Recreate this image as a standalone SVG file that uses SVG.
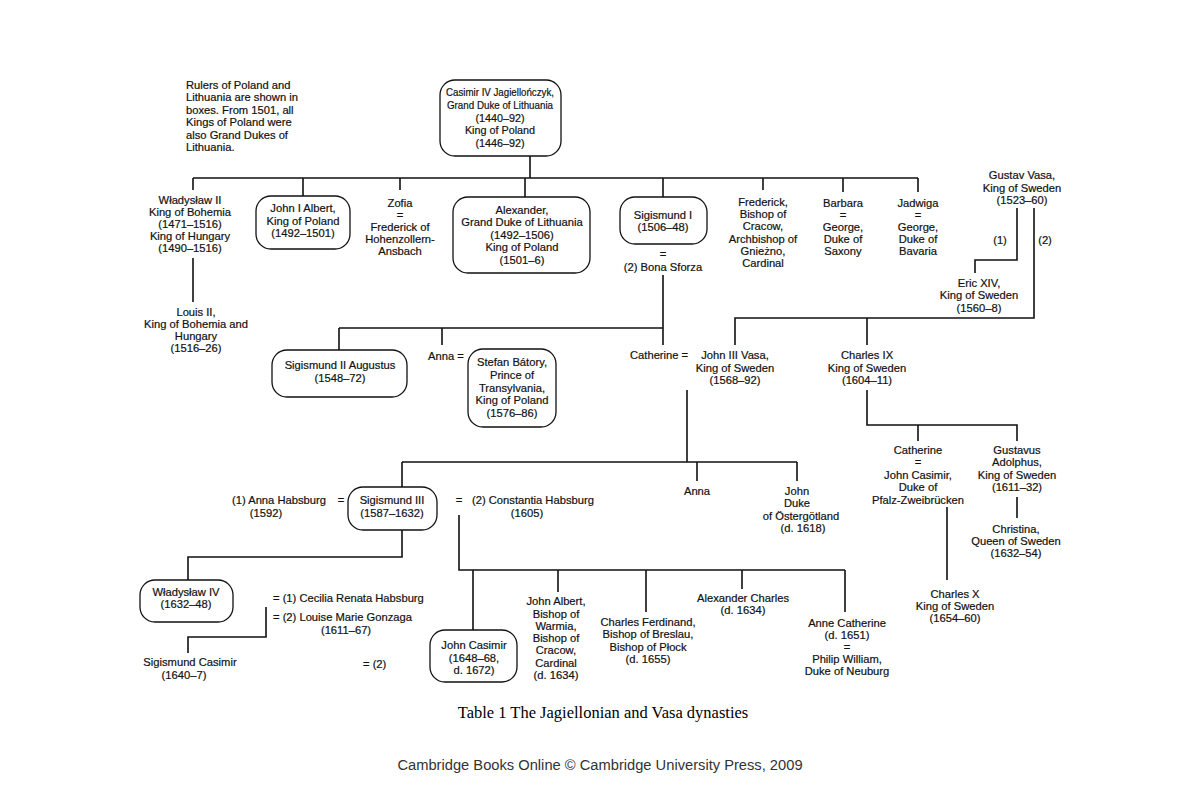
<svg xmlns="http://www.w3.org/2000/svg" width="1201" height="801" viewBox="0 0 1201 801">
<style>
text{font-family:"Liberation Sans",Arial,sans-serif;font-size:11.2px;fill:#111;stroke:#111;stroke-width:0.2;}
.c{text-anchor:middle;}
.s{font-size:10.8px;}
.box{fill:none;stroke:#111;stroke-width:1.3;}
.ln{fill:none;stroke:#111;stroke-width:1.6;}
.cap{font-family:"Liberation Serif","Times New Roman",serif;font-size:16.5px;fill:#000;stroke:none;}
.foot{font-size:14.7px;fill:#333;stroke:none;}
</style>
<rect width="1201" height="801" fill="#fff"/>
<g id="connectors">
<path class="ln" d="M530 156V178M193 178H918M193 178V190M303 178V196M400 178V190M525 178V197M663 178V197M763 178V190M843 178V192M918 178V192"/>
<path class="ln" d="M193 258V302"/>
<path class="ln" d="M663 275V345M339 328H663M339 328V350M442 328V345"/>
<path class="ln" d="M1017 208V260H975V273M1034 208V318H735V345M867 318V345"/>
<path class="ln" d="M867 390V425H1017V441M918 425V441M1017 497V518M947 507V580"/>
<path class="ln" d="M687 390V462M402 462H797M402 462V487M697 462V481M797 462V481"/>
<path class="ln" d="M402 530V557H188V580M459 515V570H845M473 570V630M558 570V592M646 570V612M742 570V589M845 570V612"/>
<path class="ln" d="M266 607V637H188V653"/>
</g>
<g id="note">
<text x="186" y="89">Rulers of Poland and</text>
<text x="186" y="101">Lithuania are shown in</text>
<text x="186" y="114">boxes.  From 1501, all</text>
<text x="186" y="126">Kings of Poland were</text>
<text x="186" y="139">also Grand Dukes of</text>
<text x="186" y="151">Lithuania.</text>
</g>
<g id="casimir4">
<rect class="box" x="440" y="80" width="121" height="76" rx="15"/>
<text class="c s" x="500" y="96" textLength="108" lengthAdjust="spacingAndGlyphs">Casimir IV Jagiellończyk,</text>
<text class="c s" x="500" y="109" textLength="106" lengthAdjust="spacingAndGlyphs">Grand Duke of Lithuania</text>
<text class="c s" x="500" y="122">(1440–92)</text>
<text class="c s" x="500" y="134">King of Poland</text>
<text class="c s" x="500" y="147">(1446–92)</text>
</g>
<g id="wladyslaw2">
<text class="c" x="190" y="204">Władysław II</text>
<text class="c" x="190" y="216">King of Bohemia</text>
<text class="c" x="190" y="228">(1471–1516)</text>
<text class="c" x="190" y="240">King of Hungary</text>
<text class="c" x="190" y="252">(1490–1516)</text>
</g>
<g id="louis2">
<text class="c" x="196" y="316">Louis II,</text>
<text class="c" x="196" y="328">King of Bohemia and</text>
<text class="c" x="196" y="340">Hungary</text>
<text class="c" x="196" y="352">(1516–26)</text>
</g>
<g id="johnalbert1">
<rect class="box" x="256" y="196" width="94" height="53" rx="15"/>
<text class="c" x="303" y="212">John I Albert,</text>
<text class="c" x="303" y="225">King of Poland</text>
<text class="c" x="303" y="237">(1492–1501)</text>
</g>
<g id="zofia">
<text class="c" x="400" y="207">Zofia</text>
<text class="c" x="400" y="219">=</text>
<text class="c" x="400" y="231">Frederick of</text>
<text class="c" x="400" y="243">Hohenzollern-</text>
<text class="c" x="400" y="255">Ansbach</text>
</g>
<g id="alexander">
<rect class="box" x="453" y="197" width="137" height="76" rx="15"/>
<text class="c" x="522" y="214">Alexander,</text>
<text class="c" x="522" y="226">Grand Duke of Lithuania</text>
<text class="c" x="522" y="239">(1492–1506)</text>
<text class="c" x="522" y="251">King of Poland</text>
<text class="c" x="522" y="264">(1501–6)</text>
</g>
<g id="sigismund1">
<rect class="box" x="620" y="197" width="87" height="47" rx="15"/>
<text class="c" x="663" y="219">Sigismund I</text>
<text class="c" x="663" y="231">(1506–48)</text>
<text class="c" x="663" y="258">=</text>
<text class="c" x="663" y="271">(2) Bona Sforza</text>
</g>
<g id="frederick">
<text class="c" x="763" y="206">Frederick,</text>
<text class="c" x="763" y="218">Bishop of</text>
<text class="c" x="763" y="230">Cracow,</text>
<text class="c" x="763" y="243">Archbishop of</text>
<text class="c" x="763" y="255">Gnieżno,</text>
<text class="c" x="763" y="267">Cardinal</text>
</g>
<g id="barbara">
<text class="c" x="843" y="207">Barbara</text>
<text class="c" x="843" y="219">=</text>
<text class="c" x="843" y="231">George,</text>
<text class="c" x="843" y="243">Duke of</text>
<text class="c" x="843" y="255">Saxony</text>
</g>
<g id="jadwiga">
<text class="c" x="918" y="207">Jadwiga</text>
<text class="c" x="918" y="219">=</text>
<text class="c" x="918" y="231">George,</text>
<text class="c" x="918" y="243">Duke of</text>
<text class="c" x="918" y="255">Bavaria</text>
</g>
<g id="gustavvasa">
<text class="c" x="1022" y="179">Gustav Vasa,</text>
<text class="c" x="1022" y="192">King of Sweden</text>
<text class="c" x="1022" y="204">(1523–60)</text>
<text class="c" x="1000" y="244">(1)</text>
<text class="c" x="1045" y="244">(2)</text>
</g>
<g id="eric14">
<text class="c" x="979" y="287">Eric XIV,</text>
<text class="c" x="979" y="299">King of Sweden</text>
<text class="c" x="979" y="312">(1560–8)</text>
</g>
<g id="sigismund2">
<rect class="box" x="272" y="350" width="135" height="47" rx="15"/>
<text class="c" x="340" y="369">Sigismund II Augustus</text>
<text class="c" x="340" y="382">(1548–72)</text>
</g>
<g id="anna">
<text x="428" y="360">Anna =</text>
</g>
<g id="stefanbatory">
<rect class="box" x="468" y="349" width="88" height="78" rx="15"/>
<text class="c" x="512" y="366">Stefan Bátory,</text>
<text class="c" x="512" y="379">Prince of</text>
<text class="c" x="512" y="392">Transylvania,</text>
<text class="c" x="512" y="404">King of Poland</text>
<text class="c" x="512" y="417">(1576–86)</text>
</g>
<g id="catherine">
<text x="630" y="359">Catherine =</text>
</g>
<g id="john3vasa">
<text class="c" x="735" y="359">John III Vasa,</text>
<text class="c" x="735" y="372">King of Sweden</text>
<text class="c" x="735" y="384">(1568–92)</text>
</g>
<g id="charles9">
<text class="c" x="867" y="359">Charles IX</text>
<text class="c" x="867" y="372">King of Sweden</text>
<text class="c" x="867" y="384">(1604–11)</text>
</g>
<g id="catherine-pfalz">
<text class="c" x="918" y="454">Catherine</text>
<text class="c" x="918" y="466">=</text>
<text class="c" x="918" y="479">John Casimir,</text>
<text class="c" x="918" y="491">Duke of</text>
<text class="c" x="918" y="504">Pfalz-Zweibrücken</text>
</g>
<g id="gustavusadolphus">
<text class="c" x="1017" y="454">Gustavus</text>
<text class="c" x="1017" y="466">Adolphus,</text>
<text class="c" x="1017" y="479">King of Sweden</text>
<text class="c" x="1017" y="491">(1611–32)</text>
</g>
<g id="christina">
<text class="c" x="1016" y="533">Christina,</text>
<text class="c" x="1016" y="545">Queen of Sweden</text>
<text class="c" x="1016" y="557">(1632–54)</text>
</g>
<g id="charles10">
<text class="c" x="955" y="598">Charles X</text>
<text class="c" x="955" y="610">King of Sweden</text>
<text class="c" x="955" y="622">(1654–60)</text>
</g>
<g id="anna-vasa">
<text class="c" x="697" y="495">Anna</text>
</g>
<g id="john-ostergotland">
<text class="c" x="797" y="495">John</text>
<text class="c" x="797" y="507">Duke</text>
<text class="c" x="801" y="520">of Östergötland</text>
<text class="c" x="803" y="532">(d. 1618)</text>
</g>
<g id="sigismund3">
<rect class="box" x="348" y="487" width="89" height="43" rx="15"/>
<text class="c" x="392" y="504">Sigismund III</text>
<text class="c" x="392" y="517">(1587–1632)</text>
<text x="232" y="504">(1) Anna Habsburg</text>
<text class="c" x="341" y="504">=</text>
<text class="c" x="266" y="517">(1592)</text>
<text class="c" x="459" y="504">=</text>
<text x="472" y="504">(2) Constantia Habsburg</text>
<text class="c" x="527" y="517">(1605)</text>
</g>
<g id="wladyslaw4">
<rect class="box" x="140" y="580" width="93" height="42" rx="15"/>
<text class="c" x="186" y="596">Władysław IV</text>
<text class="c" x="186" y="608">(1632–48)</text>
<text x="273" y="602">= (1) Cecilia Renata Habsburg</text>
<text x="273" y="621">= (2) Louise Marie Gonzaga</text>
<text class="c" x="346" y="634">(1611–67)</text>
</g>
<g id="sigismundcasimir">
<text class="c" x="190" y="666">Sigismund Casimir</text>
<text class="c" x="184" y="679">(1640–7)</text>
<text x="363" y="668">= (2)</text>
</g>
<g id="johncasimir">
<rect class="box" x="430" y="630" width="87" height="52" rx="15"/>
<text class="c" x="474" y="649">John Casimir</text>
<text class="c" x="474" y="662">(1648–68,</text>
<text class="c" x="474" y="674">d. 1672)</text>
</g>
<g id="johnalbert-bishop">
<text class="c" x="556" y="605">John Albert,</text>
<text class="c" x="556" y="618">Bishop of</text>
<text class="c" x="556" y="630">Warmia,</text>
<text class="c" x="556" y="642">Bishop of</text>
<text class="c" x="556" y="654">Cracow,</text>
<text class="c" x="556" y="667">Cardinal</text>
<text class="c" x="556" y="679">(d. 1634)</text>
</g>
<g id="charlesferdinand">
<text class="c" x="648" y="626">Charles Ferdinand,</text>
<text class="c" x="648" y="638">Bishop of Breslau,</text>
<text class="c" x="648" y="651">Bishop of Płock</text>
<text class="c" x="648" y="663">(d. 1655)</text>
</g>
<g id="alexandercharles">
<text class="c" x="743" y="602">Alexander Charles</text>
<text class="c" x="743" y="614">(d. 1634)</text>
</g>
<g id="annecatherine">
<text class="c" x="847" y="627">Anne Catherine</text>
<text class="c" x="847" y="639">(d. 1651)</text>
<text class="c" x="847" y="651">=</text>
<text class="c" x="847" y="663">Philip William,</text>
<text class="c" x="847" y="675">Duke of Neuburg</text>
</g>
<text class="cap c" x="603" y="718">Table 1  The Jagiellonian and Vasa dynasties</text>
<text class="foot c" x="600" y="770">Cambridge Books Online © Cambridge University Press, 2009</text>
</svg>
